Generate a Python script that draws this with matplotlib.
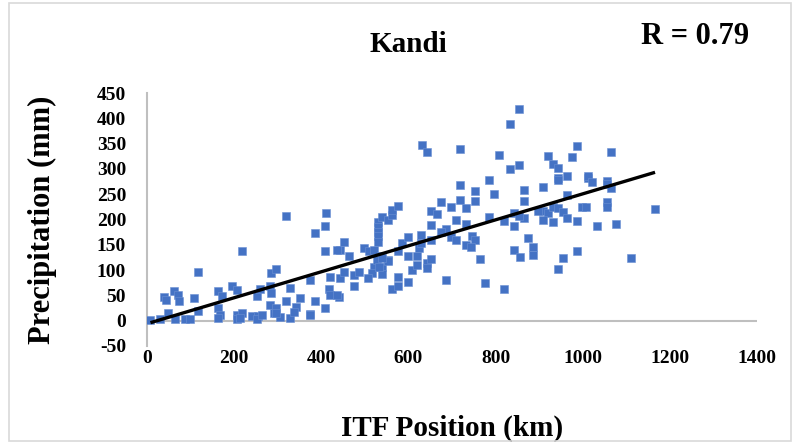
import numpy as np
import matplotlib
matplotlib.use("Agg")
import matplotlib.pyplot as plt
from matplotlib.patches import Rectangle

plt.rcParams["axes.unicode_minus"] = False

# ---- data (ITF position km, precipitation mm) ----
itf_km = [
    8, 30, 49, 64, 87, 99, 40, 44, 63, 72, 74, 107, 118, 118, 163, 173, 164, 168, 164,
    195, 206, 218, 206, 218, 206, 241, 252, 255, 253, 213, 260, 264,
    283, 285, 285, 296, 283, 291, 306, 329, 318, 329, 341, 337, 352, 374, 375, 385,
    408, 418, 420, 421, 440, 442, 452, 318, 410, 408, 385, 408, 442, 452, 464, 297,
    297, 375, 437, 437,
    475, 487, 475, 498, 510, 520, 521, 517, 507, 531, 531, 531, 531, 531, 536, 540,
    552, 540, 540, 552, 563, 563, 575, 575, 563, 575, 575, 598, 585, 598, 598, 608,
    619, 619, 625, 628, 628, 642, 642, 652, 652, 652, 652, 665, 631, 642, 529, 533,
    552, 540,
    675, 698, 732, 709, 732, 686, 675, 697, 709, 746, 753, 732, 744, 764, 776, 686,
    719, 719, 719, 753, 753, 786, 797, 786,
    809, 832, 854, 832, 854, 820, 842, 842, 865, 854, 865, 865, 874, 887, 887, 842,
    855, 820, 909, 920, 932, 943, 943, 943, 965, 976, 988, 1011, 965, 999, 909, 897,
    920, 932, 943, 954, 909, 932, 965, 988, 955, 988, 943, 1066, 1012, 1022, 1055,
    1055, 1066, 1055, 1055, 1008, 1166, 1033, 1076, 1111,
]
precip_mm = [
    2, 3, 15, 3, 3, 3, 47, 40, 58, 50, 38, 45, 96, 20, 59, 48, 25, 12, 5,
    68, 61, 138, 12, 15, 4, 9, 48, 10, 3, 5, 62, 12,
    68, 55, 94, 102, 32, 15, 8, 5, 38, 64, 28, 18, 45, 14, 81, 38,
    25, 62, 51, 86, 47, 84, 97, 207, 212, 188, 173, 138, 140, 156, 127, 26,
    16, 12, 139, 50,
    91, 97, 68, 143, 137, 140, 107, 94, 84, 196, 186, 176, 168, 156, 127, 107,
    120, 93, 204, 199, 209, 219, 227, 137, 62, 68, 87, 76, 153, 166, 127, 100,
    127, 110, 143, 170, 153, 115, 104, 122, 160, 189, 217, 210, 347, 334, 120, 107,
    117, 124,
    235, 224, 222, 200, 191, 181, 176, 165, 160, 167, 160, 150, 145, 122, 74, 81,
    339, 268, 239, 256, 237, 279, 250, 204,
    327, 300, 308, 388, 418, 198, 212, 188, 203, 206, 258, 237, 163, 145, 130, 139,
    125, 62, 264, 326, 309, 302, 283, 278, 285, 324, 345, 283, 249, 225, 216, 216,
    212, 225, 222, 215, 199, 195, 203, 197, 124, 137, 102, 334, 285, 274, 276,
    270, 263, 235, 225, 225, 220, 188, 191, 124,
]
x_ticks = [0, 200, 400, 600, 800, 1000, 1200, 1400]
y_ticks = [-50, 0, 50, 100, 150, 200, 250, 300, 350, 400, 450]
title_text = "Kandi"
r_text = "R = 0.79"
x_label = "ITF Position (km)"
y_label = "Precipitation (mm)"

x = np.array(itf_km, dtype=float)
y = np.array(precip_mm, dtype=float)

W, H = 793, 442
fig = plt.figure(figsize=(W / 100, H / 100), dpi=100)
serif = ["Liberation Serif", "DejaVu Serif"]

left, right, top, bottom = 147, 757, 93, 346
ax = fig.add_axes([left / W, 1 - bottom / H, (right - left) / W, (bottom - top) / H])

ax.scatter(x, y, marker="s", s=30, color="#4472C4", edgecolors="#6A8FD3",
           linewidths=0.4, zorder=3)

# linear trendline over data range
k, b = np.polyfit(x, y, 1)
xs = np.array([x.min(), x.max()])
ax.plot(xs, k * xs + b, color="black", lw=2.4, zorder=4, solid_capstyle="butt")

ax.set_xlim(0, 1400)
ax.set_ylim(-50, 450)
ax.set_xticks(x_ticks)
ax.set_yticks(y_ticks)
ax.axhline(0, color="#BFBFBF", lw=1.5, zorder=1)

for s in ["top", "right", "bottom"]:
    ax.spines[s].set_visible(False)
ax.spines["left"].set_color("#BFBFBF")
ax.spines["left"].set_linewidth(1.5)
ax.tick_params(axis="both", length=0)
ax.tick_params(axis="y", pad=15)
ax.tick_params(axis="x", pad=3)
for lab in ax.get_xticklabels() + ax.get_yticklabels():
    lab.set_family(serif)
    lab.set_fontweight("bold")
    lab.set_fontsize(14)

ax.set_xlabel(x_label, family=serif, fontweight="bold", fontsize=21, labelpad=34)
ax.set_ylabel(y_label, family=serif, fontweight="bold", fontsize=22, labelpad=29)

fig.text(408 / W, 1 - 45 / H, title_text, family=serif, fontweight="bold",
         fontsize=21, ha="center", va="center")
fig.text(695 / W, 1 - 36 / H, r_text, family=serif, fontweight="bold",
         fontsize=22, ha="center", va="center")

fig.patches.append(Rectangle((9 / W, 1 / H), (782) / W, (438) / H,
                             transform=fig.transFigure, fill=False,
                             edgecolor="#D9D9D9", lw=1.2))

fig.savefig("out.png", dpi=100)
